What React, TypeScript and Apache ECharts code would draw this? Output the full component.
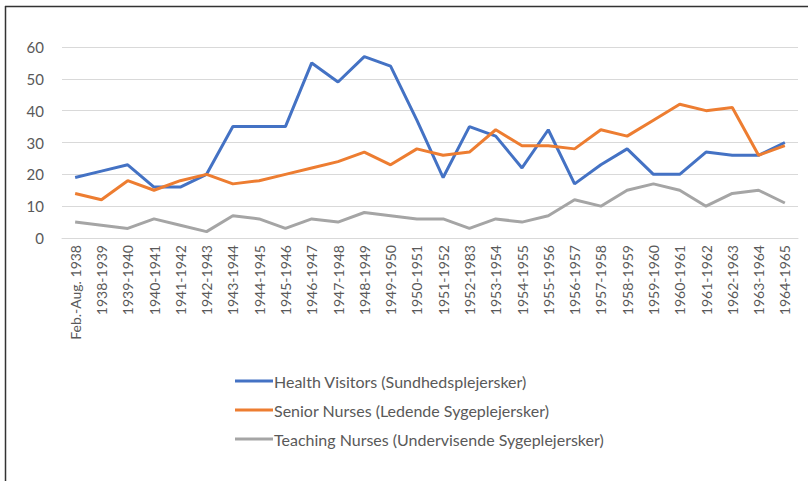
import React, { useEffect, useRef } from "react";
import * as echarts from "echarts";

const categories = [
  "Feb.-Aug. 1938", "1938-1939", "1939-1940", "1940-1941", "1941-1942", "1942-1943",
  "1943-1944", "1944-1945", "1945-1946", "1946-1947", "1947-1948", "1948-1949",
  "1949-1950", "1950-1951", "1951-1952", "1952-1983", "1953-1954", "1954-1955",
  "1955-1956", "1956-1957", "1957-1958", "1958-1959", "1959-1960", "1960-1961",
  "1961-1962", "1962-1963", "1963-1964", "1964-1965",
];

const healthVisitors = [19, 21, 23, 16, 16, 20, 35, 35, 35, 55, 49, 57, 54, 37, 19, 35, 32, 22, 34, 17, 23, 28, 20, 20, 27, 26, 26, 30];
const seniorNurses = [14, 12, 18, 15, 18, 20, 17, 18, 20, 22, 24, 27, 23, 28, 26, 27, 34, 29, 29, 28, 34, 32, 37, 42, 40, 41, 26, 29];
const teachingNurses = [5, 4, 3, 6, 4, 2, 7, 6, 3, 6, 5, 8, 7, 6, 6, 3, 6, 5, 7, 12, 10, 15, 17, 15, 10, 14, 15, 11];

const seriesNames = [
  "Health Visitors (Sundhedsplejersker)",
  "Senior Nurses (Ledende Sygeplejersker)",
  "Teaching Nurses (Undervisende Sygeplejersker)",
];

const FONT = "Lato, 'Liberation Sans', sans-serif";
const TEXT = "#595959";

export default function App() {
  const ref = useRef<HTMLDivElement>(null);

  useEffect(() => {
    if (!ref.current) return;
    const chart = echarts.init(ref.current, null, { renderer: "svg" });
    const mk = (name: string, data: number[], color: string) => ({
      name,
      type: "line",
      data,
      symbol: "none",
      lineStyle: { color, width: 3 },
      itemStyle: { color },
    });
    chart.setOption({
      animation: false,
      backgroundColor: "#ffffff",
      textStyle: { fontFamily: FONT },
      grid: { left: 62, right: 10, top: 47, bottom: 243, containLabel: false },
      xAxis: {
        type: "category",
        data: categories,
        boundaryGap: true,
        axisLine: { show: true, lineStyle: { color: "#D9D9D9", width: 1 } },
        axisTick: { show: false },
        axisLabel: {
          rotate: 90,
          interval: 0,
          margin: 7,
          color: TEXT,
          fontSize: 14,
          fontFamily: FONT,
        },
      },
      yAxis: {
        type: "value",
        min: 0,
        max: 60,
        interval: 10,
        axisLine: { show: false },
        axisTick: { show: false },
        splitLine: { lineStyle: { color: "#D9D9D9", width: 1 } },
        axisLabel: { color: TEXT, fontSize: 15, margin: 18, fontFamily: FONT },
      },
      legend: {
        orient: "vertical",
        left: 235,
        top: 373,
        padding: 0,
        itemWidth: 38,
        itemHeight: 3,
        itemGap: 13,
        icon: "rect",
        textStyle: { color: TEXT, fontSize: 16, fontFamily: FONT, padding: [0, 0, 0, -4] },
        data: seriesNames,
      },
      graphic: [
        {
          type: "line",
          shape: { x1: 5.5, y1: 6, x2: 5.5, y2: 481 },
          style: { stroke: "#333333", lineWidth: 1.5 },
        },
        {
          type: "line",
          shape: { x1: 5, y1: 6.5, x2: 808, y2: 6.5 },
          style: { stroke: "#333333", lineWidth: 1.5 },
        },
      ],
      series: [
        mk(seriesNames[0], healthVisitors, "#4472C4"),
        mk(seriesNames[1], seniorNurses, "#ED7D31"),
        mk(seriesNames[2], teachingNurses, "#A5A5A5"),
      ],
    });
    return () => chart.dispose();
  }, []);

  return (
    <div
      ref={ref}
      style={{ position: "fixed", left: 0, top: 0, width: 808, height: 481, background: "#fff" }}
    />
  );
}
